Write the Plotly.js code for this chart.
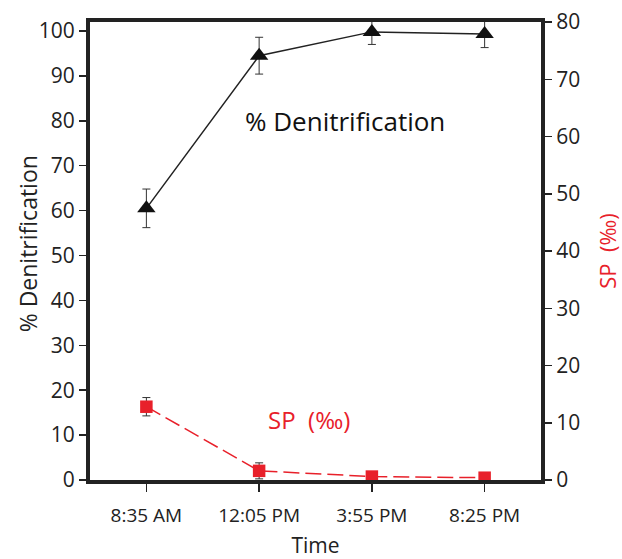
<!DOCTYPE html>
<html>
<head>
<meta charset="utf-8">
<script src="https://cdn.plot.ly/plotly-3.0.1.min.js"></script>
<style>html,body{margin:0;padding:0;background:#fff;}#chart{width:622px;height:559px;}</style>
</head>
<body>
<div id="chart"></div>
<script>
var times = ["8:35 AM", "12:05 PM", "3:55 PM", "8:25 PM"];
var denitrification = [60.5, 94.5, 99.8, 99.3];
var denitrificationErr = [4.3, 4.1, 2.8, 3.0];
var sp = [12.8, 1.6, 0.6, 0.4];
var spErr = [1.6, 1.4, 0.5, 0.5];

var FONT = "'Open Sans', sans-serif";
var AXC = "#222222";
var RED = "#e8202a";

var traces = [
  {
    x: times, y: denitrification, type: "scatter", mode: "lines+markers",
    line: {color: "#222222", width: 1.5},
    marker: {symbol: "triangle-up", size: 16, color: "#111111"},
    error_y: {type: "data", array: denitrificationErr, visible: true, color: "#333333", thickness: 1, width: 4},
    yaxis: "y", showlegend: false
  },
  {
    x: times, y: sp, type: "scatter", mode: "lines+markers",
    line: {color: RED, width: 1.5, dash: "16px,6px"},
    marker: {symbol: "square", size: 12.5, color: RED},
    error_y: {type: "data", array: spErr, visible: true, color: "#333333", thickness: 1, width: 4},
    yaxis: "y2", showlegend: false
  }
];

var layout = {
  width: 622, height: 559,
  margin: {l: 90, r: 81, t: 22, b: 79},
  paper_bgcolor: "#ffffff", plot_bgcolor: "#ffffff",
  font: {family: FONT, color: "#222222", size: 20},
  xaxis: {
    type: "category", range: [-0.5, 3.5],
    showline: true, linewidth: 4, linecolor: AXC, mirror: true,
    ticks: "outside", ticklen: 8, tickwidth: 1.5, tickcolor: AXC,
    ticklabelstandoff: 7,
    showgrid: false, zeroline: false,
    tickfont: {size: 19, family: FONT, color: "#222"},
    title: {text: "Time", font: {size: 21, family: FONT, color: "#222"}, standoff: 14}
  },
  yaxis: {
    range: [0, 102], dtick: 10, tick0: 0,
    showline: true, linewidth: 4, linecolor: AXC,
    ticks: "outside", ticklen: 7, tickwidth: 1.5, tickcolor: AXC,
    showgrid: false, zeroline: false,
    tickfont: {size: 21, family: FONT, color: "#222"}
  },
  yaxis2: {
    range: [0, 80], dtick: 10, tick0: 0, overlaying: "y", side: "right",
    showline: true, linewidth: 4, linecolor: AXC,
    ticks: "outside", ticklen: 7, tickwidth: 1.5, tickcolor: AXC,
    showgrid: false, zeroline: false,
    tickfont: {size: 21, family: FONT, color: "#222"},
    title: {text: "SP  (‰)", font: {size: 22, family: FONT, color: RED}, standoff: 22}
  },
  annotations: [
    {text: "% Denitrification", xref: "paper", yref: "paper", x: -0.137, y: 0.515,
     xanchor: "center", yanchor: "middle", textangle: -90, showarrow: false,
     font: {size: 23, family: FONT, color: "#222"}},
    {text: "% Denitrification", xref: "paper", yref: "paper", x: 0.566, y: 0.784,
     xanchor: "center", yanchor: "middle", showarrow: false,
     font: {size: 26, family: FONT, color: "#111"}},
    {text: "SP  (‰)", xref: "paper", yref: "paper", x: 0.485, y: 0.133,
     xanchor: "center", yanchor: "middle", showarrow: false,
     font: {size: 24, family: FONT, color: RED}}
  ]
};

Plotly.newPlot("chart", traces, layout, {displayModeBar: false, staticPlot: true});
</script>
</body>
</html>
